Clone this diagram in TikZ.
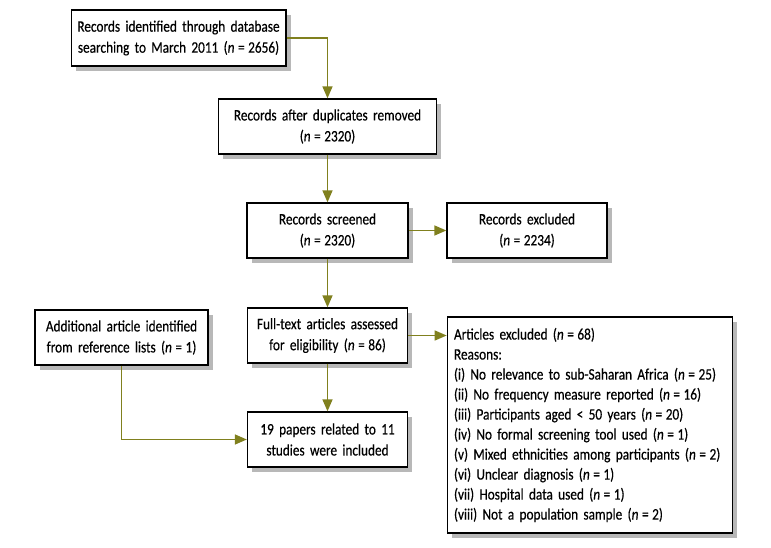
\documentclass[tikz,border=0pt]{standalone}
\usepackage{fontspec}
\setmainfont{Carlito}[FakeStretch=0.83, FakeBold=0.4]
\usetikzlibrary{arrows.meta,shadows}
\definecolor{arrowgreen}{RGB}{128,128,30}
\newcommand{\nn}{\textit{n}\hspace{0.22em}=\hspace{0.22em}}
\begin{document}
\begin{tikzpicture}[x=0.75pt, y=-0.75pt,
    box/.style={draw, line width=1pt, fill=white, align=center, inner sep=2pt,
        font=\fontsize{12}{15.75}\selectfont,
        drop shadow={shadow xshift=3.5pt, shadow yshift=-3.5pt, fill=black!28, opacity=1}},
    arr/.style={draw=arrowgreen, line width=1.1pt,
        -{Triangle[length=9pt, width=7.5pt, fill=arrowgreen]}}]
    % Рамка рисунка
    \useasboundingbox (0,0) rectangle (771,548);

    % Блоки
    \node[box, text width=157pt, minimum height=42pt] (ident) at (178.5,38)
        {Records identified through database\\searching to March 2011 (\nn 2656)};
    \node[box, text width=159.5pt, minimum height=41.25pt] (dupl) at (327.5,126.5)
        {Records after duplicates removed\\(\nn 2320)};
    \node[box, text width=116.75pt, minimum height=41.25pt] (screen) at (327.5,230.5)
        {Records screened\\(\nn 2320)};
    \node[box, text width=116pt, minimum height=41.25pt] (excl) at (527,230.5)
        {Records excluded\\(\nn 2234)};
    \node[box, text width=116pt, minimum height=41.25pt] (full) at (327.5,335.5)
        {Full-text articles assessed\\for eligibility (\nn 86)};
    \node[box, text width=125.75pt, minimum height=41.25pt] (addit) at (121.5,337.5)
        {Additional article identified\\from reference lists (\nn 1)};
    \node[box, text width=116pt, minimum height=41.25pt] (incl) at (327.5,439.5)
        {19 papers related to 11\\studies were included};
    \node[box, align=left, text width=204pt, minimum height=162pt, inner sep=5pt,
        font=\fontsize{12}{15}\selectfont] (artex) at (590,425)
        {Articles excluded (\nn 68)\\
        Reasons:\\
        (i) No relevance to sub-Saharan Africa (\nn 25)\\
        (ii) No frequency measure reported (\nn 16)\\
        (iii) Participants aged < 50 years (\nn 20)\\
        (iv) No formal screening tool used (\nn 1)\\
        (v) Mixed ethnicities among participants (\nn 2)\\
        (vi) Unclear diagnosis (\nn 1)\\
        (vii) Hospital data used (\nn 1)\\
        (viii) Not a population sample (\nn 2)};

    % Стрелки
    \draw[arr] (ident.east) -| (dupl.north);
    \draw[arr] (dupl.south) -- (screen.north);
    \draw[arr] (screen.east) -- (excl.west);
    \draw[arr] (screen.south) -- (full.north);
    \draw[arr] (full.east) -- (full.east -| artex.west);
    \draw[arr] (full.south) -- (incl.north);
    \draw[arr] (addit.south) |- (incl.west);
\end{tikzpicture}
\end{document}
